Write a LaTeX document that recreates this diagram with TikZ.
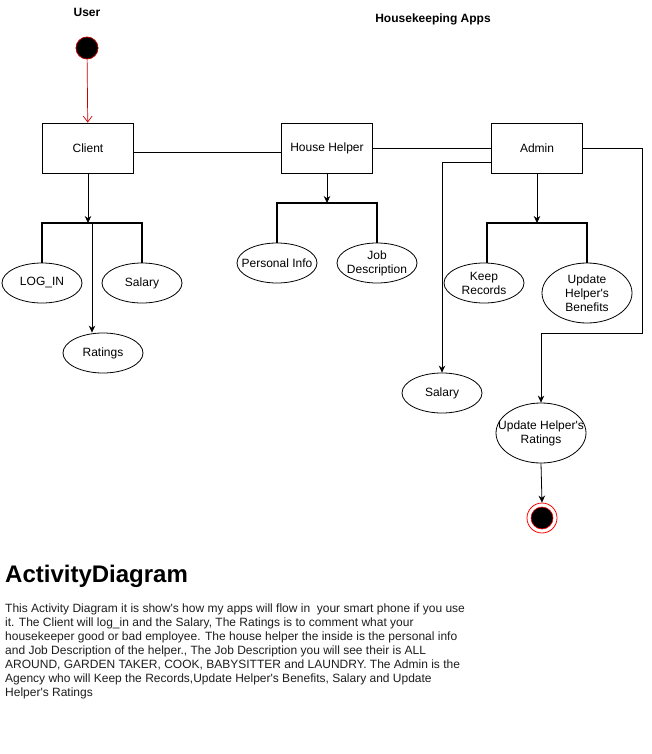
\documentclass[tikz,border=0pt]{standalone}
\usepackage{fontspec}
\setmainfont{Liberation Sans}[Ligatures=TeXOff]
\usetikzlibrary{shapes.geometric,arrows.meta}
\tikzset{
  box/.style={draw, line width=0.8pt, minimum width=91pt, minimum height=50pt, inner sep=0pt, font=\fontsize{12}{14}\selectfont},
  oval/.style={draw, line width=0.8pt, ellipse, minimum width=80pt, minimum height=40pt, inner xsep=-16pt, inner ysep=-6pt, align=center, font=\fontsize{12}{14}\selectfont},
  bigoval/.style={oval, minimum width=90pt, minimum height=60pt},
  link/.style={line width=0.8pt},
  flow/.style={line width=0.8pt, -{Stealth[length=7pt,width=6.5pt]}},
  fork/.style={line width=2.6pt, line join=miter},
  heading/.style={font=\fontsize{12}{14}\selectfont\bfseries},
}
\begin{document}
\begin{tikzpicture}[x=1pt,y=-1pt]
\useasboundingbox[fill=white] (0,0) rectangle (651,754);
% titles
\node[heading] (user) at (87,12) {User};
\node[heading] (apps) at (433,19) {Housekeeping Apps};
% start
\node[circle, fill=black, draw={rgb,255:red,180;green,0;blue,0}, line width=0.8pt, minimum size=22pt, inner sep=0pt] (start) at (87,48) {};
% boxes
\node[box] (client) at (88,148) {Client};
\node[box] (hh) at (327,148) {House Helper};
\node[box] (admin) at (537,148) {Admin};
% ellipses
\node[oval] (login) at (42,283) {LOG\_IN};
\node[oval] (sal1) at (142,283) {Salary};
\node[oval] (rat) at (103,353) {Ratings};
\node[oval] (pinfo) at (277,263) {Personal Info};
\node[oval] (job) at (377,263) {Job\\Description};
\node[oval] (keep) at (484,283) {Keep\\Records};
\node[bigoval] (uhb) at (587,293) {Update\\Helper's\\Benefits};
\node[oval] (sal2) at (442,393) {Salary};
\node[bigoval] (uhr) at (541,433) {Update Helper's\\Ratings};
% end
\node[circle, draw=red, line width=0.8pt, minimum size=30pt, inner sep=0pt] (endo) at (542,518) {};
\node[circle, fill=black, draw=red, line width=0.6pt, minimum size=22pt, inner sep=0pt] (endi) at (542,518) {};
% coordinates
\coordinate (cfk) at (88,223);
\coordinate (cfl) at (42,223);
\coordinate (cfr) at (142,223);
\coordinate (cfk2) at (92,223);
\coordinate (hfk) at (327,203);
\coordinate (hfl) at (277,203);
\coordinate (hfr) at (377,203);
\coordinate (afk) at (537,223);
\coordinate (afl) at (487,223);
\coordinate (afr) at (587,223);
\coordinate (ar2) at (642,333);
\coordinate (al) at (442,162);
% connectors
\draw[line width=0.7pt, red!80!black, -{Straight Barb[length=6pt,width=9pt]}] (start) -- (client);
\draw[link] ([yshift=-4pt]client.east) -- ([yshift=-4pt]hh.west);
\draw[link] (hh.east) -- (admin.west);
\draw[flow] (client.south) -- (cfk);
\draw[fork] (login.north) -- (cfl) -- (cfr) -- (sal1.north);
\draw[flow] (cfk2) -- (cfk2 |- rat.north);
\draw[flow] (hh.south) -- (hfk);
\draw[fork] (pinfo.north) -- (hfl) -- (hfr) -- (job.north);
\draw[flow] (admin.south) -- (afk);
\draw[fork] (afl |- keep.north) -- (afl) -- (afr) -- (uhb.north);
\draw[flow] ([yshift=-14pt]admin.west) -- (al) -- (sal2.north);
\draw[flow] (admin.east) -| (ar2) -| (uhr.north);
\draw[flow] (uhr.south) -- (endo.north);
% description
\node[anchor=base west, inner sep=0pt, font=\fontsize{24}{28}\selectfont\bfseries] (title) at (5,582) {ActivityDiagram};
\node[anchor=north west, inner sep=0pt, align=left, font=\fontsize{12}{14}\selectfont, color={rgb,255:red,30;green,30;blue,30}] (desc) at (5,604) {This Activity Diagram it is show's how my apps will flow in\ \ your smart phone if you use\\
it. The Client will log\_in and the Salary, The Ratings is to comment what your\\
housekeeper good or bad employee. The house helper the inside is the personal info\\
and Job Description of the helper., The Job Description you will see their is ALL\\
AROUND, GARDEN TAKER, COOK, BABYSITTER and LAUNDRY. The Admin is the\\
Agency who will Keep the Records,Update Helper's Benefits, Salary and Update\\
Helper's Ratings};
\end{tikzpicture}
\end{document}
